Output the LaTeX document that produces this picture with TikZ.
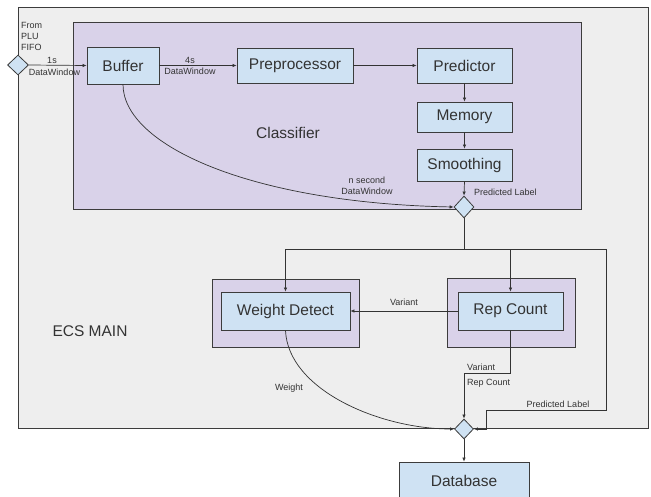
\documentclass[tikz,border=0pt]{standalone}
\usepackage{fontspec}
\setmainfont{Liberation Sans}
\usetikzlibrary{arrows.meta,shapes.geometric}

\definecolor{mainfill}{HTML}{EEEEEE}
\definecolor{groupfill}{HTML}{D9D2E9}
\definecolor{boxfill}{HTML}{CFE2F3}
\definecolor{edge}{HTML}{3C3C3C}
\definecolor{ink}{HTML}{333333}

\tikzset{
  x=1pt, y=-1pt,
  frame/.style={draw=edge, line width=0.9pt, rectangle, inner sep=0pt},
  group/.style={frame, fill=groupfill},
  stage/.style={draw=edge, line width=0.8pt, fill=boxfill, rectangle, inner sep=0pt,
                text=ink, font=\fontsize{15.5}{18}\selectfont},
  merge/.style={draw=edge, line width=0.8pt, fill=boxfill, diamond, inner sep=0pt},
  wire/.style={draw=ink, line width=0.7pt},
  arr/.style={wire, -{Latex[length=4pt,width=3.5pt]}},
  lbl/.style={text=ink, font=\fontsize{9}{11}\selectfont, inner sep=0pt},
  big/.style={text=ink, font=\fontsize{15.5}{18}\selectfont, inner sep=0pt}
}

\begin{document}
\begin{tikzpicture}
\useasboundingbox (0,0) rectangle (651,497);

% containers
\node[frame, fill=mainfill, minimum width=630pt, minimum height=421pt] (ecs) at (333,217.5) {};
\node[group, minimum width=508pt, minimum height=187pt] (cls) at (327,115.5) {};
\node[group, minimum width=147pt, minimum height=68pt] (wdo) at (285.5,313) {};
\node[group, minimum width=128pt, minimum height=69pt] (rco) at (511,312.5) {};

\node[big] (ecslbl) at (90,331) {ECS MAIN};
\node[big] (clslbl) at (288,133) {Classifier};

% classifier stages
\node[stage, minimum width=72pt, minimum height=37pt] (buf) at (123,65.5) {Buffer};
\node[stage, minimum width=116pt, minimum height=35pt] (pre) at (295,65.5) {Preprocessor};
\node[stage, minimum width=95pt, minimum height=35pt] (prd) at (464.5,65.5) {Predictor};
\node[stage, minimum width=95pt, minimum height=30pt] (mem) at (464.5,117) {Memory};
\node[stage, minimum width=95pt, minimum height=32pt] (smo) at (464.5,165) {Smoothing};

% downstream stages
\node[stage, minimum width=129pt, minimum height=38pt] (wd) at (285.5,311) {Weight Detect};
\node[stage, minimum width=105pt, minimum height=38pt] (rc) at (510.5,311) {Rep Count};
\node[stage, minimum width=130pt, minimum height=38pt] (db) at (464,481) {Database};

% junctions
\node[merge, minimum width=21pt, minimum height=20pt] (din) at (18,65) {};
\node[merge, minimum width=20pt, minimum height=22pt] (d1) at (464,207) {};
\node[merge, minimum width=19pt, minimum height=20pt] (d2) at (464,429) {};

% input
\node[lbl, anchor=north west, align=left] (src) at (21,22.5) {From\\PLU\\FIFO};
\draw[arr] (din.east) -- (buf.west);
\node[lbl] (l1a) at (52,60) {1s};
\node[lbl] (l1b) at (54.5,72) {DataWindow};

% classifier flow
\draw[arr] (buf.east) -- (pre.west);
\node[lbl] (l4a) at (190,60) {4s};
\node[lbl] (l4b) at (190,71) {DataWindow};
\draw[arr] (pre.east) -- (prd.west);
\draw[arr] (prd.south) -- (mem.north);
\draw[arr] (mem.south) -- (smo.north);
\draw[arr] (smo.south) -- (d1.north);
\node[lbl, anchor=west] (lpl1) at (474,192) {Predicted Label};
\draw[arr] (buf.south) .. controls (123,145) and (250,203) .. (d1.west);
\node[lbl] (lna) at (367,180) {n second};
\node[lbl] (lnb) at (367,191) {DataWindow};

% distribution of the predicted label
\coordinate (j) at (464,249);
\coordinate (side) at (606,410);
\coordinate (drop) at (486,429);
\draw[wire] (d1.south) -- (j);
\draw[arr] (j) -| (wd.north);
\draw[arr] (j) -| (rc.north);
\draw[arr] (j) -| (side) -| (drop) -- (d2.east);
\node[lbl] (lpl2) at (558,404) {Predicted Label};

% rep count outputs
\draw[arr] (rc.west) -- (wd.east);
\node[lbl] (lvar) at (404,302) {Variant};
\draw[arr] (rc.south) -- ++(0,43) -| (d2.north);
\node[lbl, anchor=west] (lvar2) at (467,367) {Variant};
\node[lbl, anchor=west] (lrep) at (467,383) {Rep Count};

% weight output
\draw[arr] (wd.south) .. controls (288,390) and (380,429) .. (d2.west);
\node[lbl] (lw) at (289,388) {Weight};

% storage
\draw[arr] (d2.south) -- (db.north);
\end{tikzpicture}
\end{document}
